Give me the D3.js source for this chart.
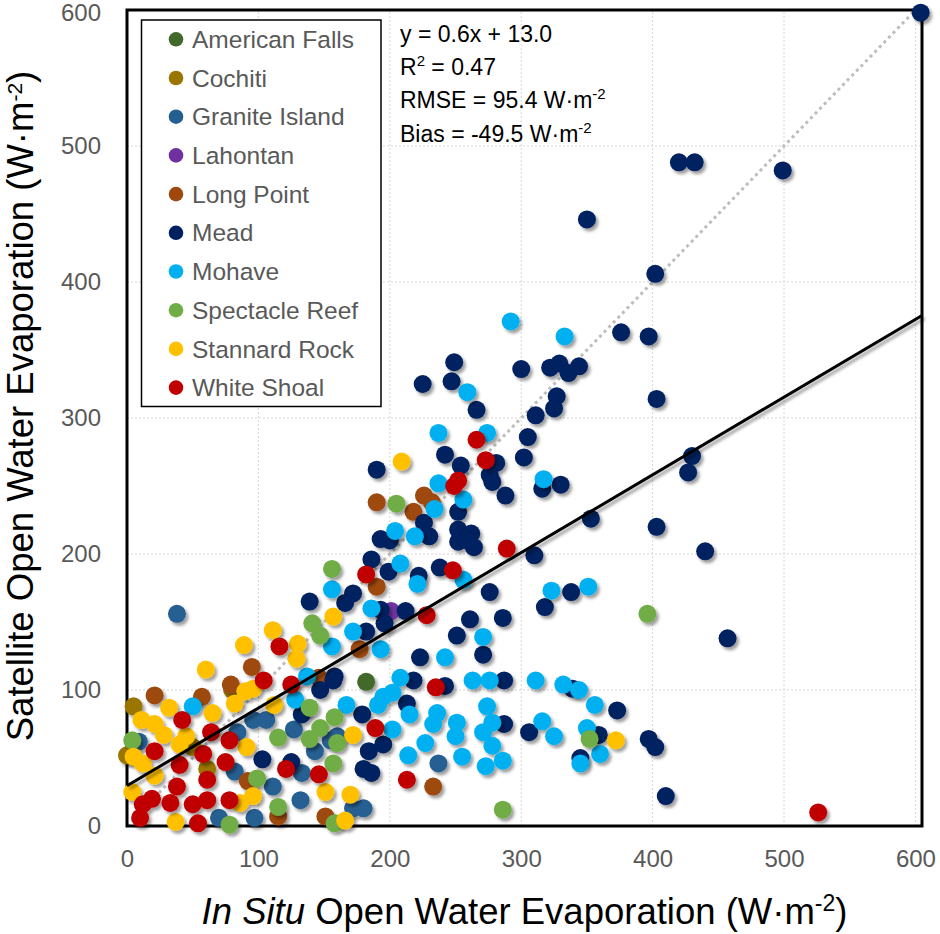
<!DOCTYPE html>
<html><head><meta charset="utf-8">
<script src="https://cdn.jsdelivr.net/npm/d3@7"></script>
<style>body{margin:0;background:#fff} svg{display:block}</style>
</head><body><svg id="c" width="940" height="934"></svg>
<script>
// ---------------- DATA ----------------
const seriesNames = ["American Falls","Cochiti","Granite Island","Lahontan","Long Point","Mead","Mohave","Spectacle Reef","Stannard Rock","White Shoal"];
const seriesColors = ["#43682b","#9a7600","#255e91","#7030a0","#9e480e","#002060","#00b0f0","#70ad47","#ffc000","#c00000"];

const americanFalls = [[182,106]];
const cochiti = [[5,88],[80,100],[50,58],[0,52],[61,42]];
const graniteIsland = [[38,156],[237,46],[160,66],[172,13],[180,13],[96,78],[106,78],[84,69],[127,71],[9,62],[155,63],[133,39],[82,40],[111,29],[70,6],[97,6],[132,19],[143,55]];
const lahontan = [[201,158]];
const longPoint = [[190,238],[226,243],[232,238],[218,231],[190,176],[177,130],[233,29],[95,117],[79,104],[21,96],[57,95],[92,33],[115,7],[151,7],[146,109]];
const mead = [[604,598],[420,488],[432,488],[499,482],[350,446],[402,406],[376,363],[397,360],[300,336],[322,337],[329,340],[336,333],[344,338],[327,316],[325,307],[311,302],[266,306],[403,314],[249,341],[225,325],[247,327],[305,286],[242,273],[254,265],[281,267],[302,271],[190,262],[276,258],[278,253],[316,248],[330,251],[288,243],[252,231],[226,223],[230,213],[193,211],[200,210],[252,218],[262,215],[252,209],[264,205],[259,210],[353,226],[310,199],[186,196],[199,187],[238,190],[222,184],[276,172],[338,172],[318,161],[172,171],[166,164],[193,159],[212,158],[196,149],[182,143],[261,152],[286,153],[251,140],[271,126],[223,124],[158,110],[218,107],[242,103],[287,107],[339,101],[373,85],[213,90],[179,82],[287,75],[306,69],[359,67],[345,50],[195,60],[184,55],[180,42],[186,39],[430,272],[427,260],[403,220],[440,202],[457,138],[397,64],[402,58],[410,22],[139,165],[147,100],[157,107],[133,82],[103,49],[125,47]];
const mohave = [[292,371],[333,360],[259,319],[237,289],[274,289],[317,255],[237,252],[256,240],[234,233],[204,217],[219,213],[208,193],[256,181],[221,178],[323,173],[351,176],[186,160],[172,143],[271,139],[242,124],[193,130],[156,132],[156,174],[208,109],[263,107],[276,107],[311,107],[332,104],[344,100],[356,89],[195,95],[202,98],[191,89],[167,89],[215,82],[236,83],[233,75],[251,76],[274,88],[278,76],[271,69],[250,66],[316,77],[325,66],[350,72],[360,53],[345,46],[202,71],[227,61],[214,52],[255,51],[278,59],[286,48],[273,44],[137,110],[128,93],[50,88]];
const spectacleReef = [[205,237],[156,189],[396,156],[352,64],[286,12],[158,80],[160,61],[157,46],[141,149],[147,140],[139,87],[115,65],[139,64],[147,72],[4,63],[99,35],[78,1],[115,14],[158,2]];
const stannardRock = [[209,268],[157,154],[372,63],[172,67],[170,23],[166,4],[111,144],[89,133],[130,134],[129,123],[60,115],[90,99],[96,101],[82,90],[32,87],[65,83],[11,78],[21,75],[28,67],[112,89],[91,58],[45,66],[40,60],[5,51],[12,46],[21,37],[4,25],[96,22],[86,17],[37,3],[151,25]];
const whiteShoal = [[266,284],[273,269],[252,254],[249,250],[289,204],[182,185],[248,188],[228,155],[235,102],[189,72],[213,34],[526,10],[116,132],[104,107],[125,104],[42,78],[64,69],[78,63],[21,55],[58,53],[40,45],[75,47],[121,42],[146,38],[61,34],[38,29],[78,19],[61,19],[50,16],[33,17],[19,20],[12,16],[10,6],[54,2]];

const seriesData = [americanFalls,cochiti,graniteIsland,lahontan,longPoint,mead,mohave,spectacleReef,stannardRock,whiteShoal];

const xTicks = [0,100,200,300,400,500,600];
const yTicks = [0,100,200,300,400,500,600];
const xDomain = [0,605];
const yDomain = [0,600];
const trendIntercept = 29.6;
const trendSlope = 0.5715;
const oneToOne = [[0,0],[600,600]];

// ---------------- CHART ----------------
const svg = d3.select('#c');
const FONT = "'Liberation Sans', Arial, Helvetica, sans-serif";
const defs = svg.append('defs');
defs.append('filter').attr('id','sh').attr('x','-60%').attr('y','-60%').attr('width','220%').attr('height','220%')
  .append('feDropShadow').attr('dx',2.5).attr('dy',3).attr('stdDeviation',1.6)
  .attr('flood-color','#000').attr('flood-opacity',0.38);

const x = d3.scaleLinear().domain(xDomain).range([127,922]);
const y = d3.scaleLinear().domain(yDomain).range([826,10]);

// gridlines
const grid = svg.append('g').attr('stroke','#d6d6d6').attr('stroke-width',1).attr('stroke-dasharray','2,2');
grid.selectAll('.vx').data(xTicks.filter(d=>d>0)).join('line')
  .attr('x1',d=>x(d)).attr('x2',d=>x(d)).attr('y1',y(yDomain[0])).attr('y2',y(yDomain[1]));
grid.selectAll('.hy').data(yTicks.filter(d=>d>0 && d<yDomain[1])).join('line')
  .attr('y1',d=>y(d)).attr('y2',d=>y(d)).attr('x1',x(xDomain[0])).attr('x2',x(xDomain[1]));

// 1:1 line
svg.append('path').datum(oneToOne)
  .attr('d', d3.line().x(d=>x(d[0])).y(d=>y(d[1])))
  .attr('fill','none').attr('stroke','#bdbdbd').attr('stroke-width',3)
  .attr('stroke-dasharray','3,3.6');

// plot border
svg.append('rect').attr('x',x(xDomain[0])).attr('y',y(yDomain[1]))
  .attr('width',x(xDomain[1])-x(xDomain[0])).attr('height',y(yDomain[0])-y(yDomain[1]))
  .attr('fill','none').attr('stroke','#000').attr('stroke-width',3);

// points
seriesData.forEach((pts,i)=>{
  svg.append('g').attr('fill',seriesColors[i]).attr('filter','url(#sh)')
    .selectAll('circle').data(pts).join('circle')
    .attr('cx',d=>x(d[0])).attr('cy',d=>y(d[1])).attr('r',9);
});

// trend line
svg.append('path').datum(xDomain.map(v=>[v, trendIntercept + trendSlope*v]))
  .attr('d', d3.line().x(d=>x(d[0])).y(d=>y(d[1])))
  .attr('fill','none').attr('stroke','#000').attr('stroke-width',3).attr('filter','url(#sh)');

// axes (labels only)
const ax = svg.append('g').attr('transform',`translate(0,${y(0)})`)
  .call(d3.axisBottom(x).tickValues(xTicks).tickSize(0).tickPadding(24));
const ay = svg.append('g').attr('transform',`translate(${x(0)},0)`)
  .call(d3.axisLeft(y).tickValues(yTicks).tickSize(0).tickPadding(26));
[ax,ay].forEach(g=>{
  g.select('.domain').remove();
  g.selectAll('text').attr('font-family',FONT).attr('font-size',24).attr('fill','#595959');
});
ay.selectAll('.tick').filter(d=>d===yDomain[1]).select('text').attr('y',3);

// legend
const lg = svg.append('g');
lg.append('rect').attr('x',141.5).attr('y',20).attr('width',239.5).attr('height',386.5)
  .attr('fill','#fff').attr('stroke','#000').attr('stroke-width',1.5);
seriesNames.forEach((n,i)=>{
  const cy = 39.3 + i*38.7;
  lg.append('circle').attr('cx',176).attr('cy',cy).attr('r',7.3).attr('fill',seriesColors[i]);
  lg.append('text').attr('x',192).attr('y',cy+8.6).text(n)
    .attr('font-family',FONT).attr('font-size',24.5).attr('fill','#595959');
});

// stats text
const stats = [
  ["y = 0.6x + 13.0", null, ""],
  ["R", "2", " = 0.47"],
  ["RMSE = 95.4 W\u00b7m", "-2", ""],
  ["Bias = -49.5 W\u00b7m", "-2", ""]
];
stats.forEach((s,i)=>{
  const t = svg.append('text').attr('x',400).attr('y',41.7 + i*33.3)
    .attr('font-family',FONT).attr('font-size',23).attr('fill','#000');
  t.append('tspan').text(s[0]);
  if (s[1]) {
    t.append('tspan').attr('dy',-9).attr('font-size',15).text(s[1]);
    if (s[2]) t.append('tspan').attr('dy',9).text(s[2]);
  }
});

// axis titles
const xt = svg.append('text').attr('x',(x(xDomain[0])+x(xDomain[1]))/2).attr('y',924)
  .attr('text-anchor','middle').attr('font-family',FONT).attr('font-size',36.5).attr('fill','#000');
xt.append('tspan').attr('font-style','italic').text('In Situ');
xt.append('tspan').text(' Open Water Evaporation (W\u00b7m');
xt.append('tspan').attr('dy',-13).attr('font-size',23).text('-2');
xt.append('tspan').attr('dy',13).text(')');

const yt = svg.append('text').attr('transform','translate(33,406) rotate(-90)')
  .attr('text-anchor','middle').attr('font-family',FONT).attr('font-size',36.5).attr('fill','#000');
yt.append('tspan').text('Satellite Open Water Evaporation (W\u00b7m');
yt.append('tspan').attr('dy',-11).attr('font-size',21).text('-2');
yt.append('tspan').attr('dy',11).text(')');
</script>
</body></html>
